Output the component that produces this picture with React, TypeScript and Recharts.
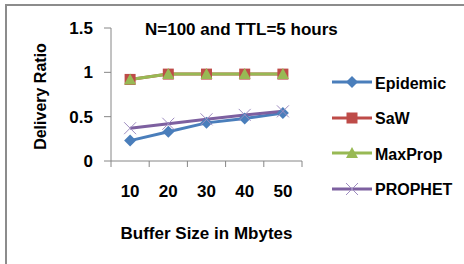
import { LineChart, Line, XAxis, YAxis } from "recharts";

const bufferSizes = ["10", "20", "30", "40", "50"];
const epidemic = [0.23, 0.33, 0.43, 0.48, 0.54];
const saw = [0.92, 0.98, 0.98, 0.98, 0.98];
const maxProp = [0.92, 0.98, 0.98, 0.98, 0.98];
const prophet = [0.37, 0.42, 0.47, 0.52, 0.56];
const yTicks = [0, 0.5, 1, 1.5];

const series = [
  { key: "Epidemic", values: epidemic, color: "#4A7EBB", shape: "diamond" },
  { key: "SaW", values: saw, color: "#BE4B48", shape: "square" },
  { key: "MaxProp", values: maxProp, color: "#98B954", shape: "triangle" },
  { key: "PROPHET", values: prophet, color: "#7D60A0", shape: "cross" },
];

const data = bufferSizes.map((b, i) => {
  const row: any = { size: b };
  series.forEach((s) => (row[s.key] = s.values[i]));
  return row;
});

const FONT = "'Liberation Sans', Arial, sans-serif";
const AXIS = "#868686";
const PLOT_W = 191;
const band = PLOT_W / bufferSizes.length;

function Marker({ shape, color, cx, cy }: any) {
  if (cx == null || cy == null) return null;
  if (shape === "diamond")
    return <polygon points={`${cx},${cy - 6} ${cx + 6},${cy} ${cx},${cy + 6} ${cx - 6},${cy}`} fill={color} />;
  if (shape === "square")
    return <rect x={cx - 5.5} y={cy - 5.5} width={11} height={11} fill={color} />;
  if (shape === "triangle")
    return <polygon points={`${cx},${cy - 6} ${cx + 6},${cy + 5} ${cx - 6},${cy + 5}`} fill={color} />;
  return (
    <g stroke="#9E8CC0" strokeWidth={1}>
      <line x1={cx - 6} y1={cy - 6} x2={cx + 6} y2={cy + 6} />
      <line x1={cx - 6} y1={cy + 6} x2={cx + 6} y2={cy - 6} />
    </g>
  );
}

function XTick({ x, y, payload, index }: any) {
  const last = index === bufferSizes.length - 1;
  return (
    <g>
      <line x1={x - band / 2} y1={y} x2={x - band / 2} y2={y + 6} stroke={AXIS} />
      {last && <line x1={x + band / 2} y1={y} x2={x + band / 2} y2={y + 6} stroke={AXIS} />}
      <text x={x} y={y + 36} textAnchor="middle" fontSize={17} fontWeight="bold" fill="#000" fontFamily={FONT}>
        {payload.value}
      </text>
    </g>
  );
}

export default function App() {
  return (
    <div style={{ position: "absolute", left: 0, top: 0, width: 464, height: 264, background: "#fff", fontFamily: FONT }}>
      <div
        style={{
          position: "absolute", left: 5, top: 4, width: 459, height: 260, boxSizing: "border-box",
          borderTop: "2px solid #8c8c8c", borderLeft: "2px solid #8c8c8c",
        }}
      />
      <LineChart width={464} height={264} data={data} margin={{ top: 28, right: 162, bottom: 23, left: 0 }}>
        <XAxis
          dataKey="size"
          padding={{ left: band / 2, right: band / 2 }}
          height={80}
          stroke={AXIS}
          tickLine={false}
          tickSize={0}
          tickMargin={0}
          tick={<XTick />}
          label={{
            value: "Buffer Size in Mbytes",
            position: "insideBottom",
            offset: 2,
            style: { fontSize: 17, fontWeight: "bold", fill: "#000", fontFamily: FONT },
          }}
        />
        <YAxis
          width={111}
          domain={[0, 1.5]}
          ticks={yTicks}
          stroke={AXIS}
          tickLine={{ stroke: AXIS }}
          tickSize={7}
          tickMargin={11}
          tick={{ fontSize: 17, fontWeight: "bold", fill: "#000", fontFamily: FONT }}
          label={{
            value: "Delivery Ratio",
            angle: -90,
            position: "center",
            dx: -15,
            dy: 2,
            style: { fontSize: 16, fontWeight: "bold", fill: "#000", fontFamily: FONT, textAnchor: "middle" },
          }}
        />
        {series.map((s) => (
          <Line
            key={s.key}
            dataKey={s.key}
            stroke={s.color}
            strokeWidth={3}
            isAnimationActive={false}
            dot={(p: any) => <Marker key={`${s.key}-${p.index}`} shape={s.shape} color={s.color} cx={p.cx} cy={p.cy} />}
            activeDot={false}
          />
        ))}
      </LineChart>
      <div style={{ position: "absolute", left: 145, top: 20, fontSize: 17, fontWeight: "bold", whiteSpace: "nowrap" }}>
        N=100 and TTL=5 hours
      </div>
      {series.map((s, i) => (
        <div key={s.key} style={{ position: "absolute", left: 332, top: 82 + i * 35.5 - 12, height: 24, display: "flex", alignItems: "center" }}>
          <svg width={42} height={24}>
            <line x1={0} y1={12} x2={40} y2={12} stroke={s.color} strokeWidth={3} />
            <Marker shape={s.shape} color={s.color} cx={20} cy={12} />
          </svg>
          <span style={{ fontSize: 16, fontWeight: "bold", marginLeft: 1, marginTop: 3 }}>{s.key}</span>
        </div>
      ))}
    </div>
  );
}
